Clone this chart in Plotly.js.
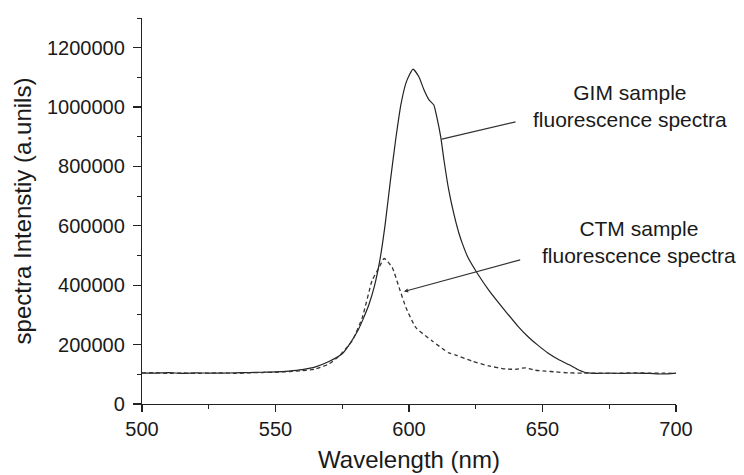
<!DOCTYPE html>
<html>
<head>
<meta charset="utf-8">
<script src="https://cdn.plot.ly/plotly-3.0.1.min.js"></script>
<style>html,body{margin:0;padding:0;background:#fff;}#chart{width:744px;height:475px;}</style>
</head>
<body>
<div id="chart"></div>
<script>
// GIM sample fluorescence spectrum (solid)
const gimWavelength = [500,505,510,515,520,525,530,535,540,545,550,555,560,565,570,575,578,581,583,585,587,589,591,593,595,597,599,601.5,603.7,605.6,607.5,609.3,610.4,611.9,613.1,614.9,616.8,618.7,620,622,625.4,630,636,641,645,648,652,656,660,663,666,668,670,675,680,685,690,695,700];
const gimIntensity  = [105000,104000,106000,103000,105000,104000,104000,105000,106000,107000,108000,111000,116000,125000,143000,169000,205000,250000,290000,335000,395000,480000,600000,750000,890000,1010000,1085000,1128000,1102000,1058000,1024000,1007000,967000,899000,821000,720000,640000,575000,540000,495000,443000,382000,314000,260000,223000,200000,172000,150000,132000,117000,106000,104000,103000,104000,103000,104000,103000,101000,104000];

// CTM sample fluorescence spectrum (dashed)
const ctmWavelength = [500,505,510,515,520,525,530,535,540,545,550,555,560,565,570,573.9,578.7,582.5,586.2,588.8,590.7,593.7,596.3,598.9,602.6,608.6,614.9,617.5,623.5,630,636.2,640,643.7,647,651.1,655,659.7,665,670,675,680,685,690,695,700];
const ctmIntensity  = [104000,106000,103000,105000,103000,104000,105000,103000,105000,106000,107000,109000,112000,118000,135000,162000,213000,291000,416000,460000,490000,460000,392000,324000,257000,213000,172000,165000,145000,128000,118000,117000,122000,114000,111000,108000,105000,104000,104000,103000,104000,105000,104000,104000,103000];

const xTickVals = [500,550,600,650,700];
const xTickText = ['500','550','600','650','700'];
const yTickVals = [0,200000,400000,600000,800000,1000000,1200000];
const yTickText = ['0','200000','400000','600000','800000','1000000','1200000'];

const FONT = 'Liberation Sans, Arial, Helvetica, sans-serif';
const INK = '#1a1a1a';

const traces = [
  {x: gimWavelength, y: gimIntensity, type: 'scatter', mode: 'lines', name: 'GIM',
   line: {color: '#222', width: 1.2, shape: 'spline', smoothing: 0.5}},
  {x: ctmWavelength, y: ctmIntensity, type: 'scatter', mode: 'lines', name: 'CTM',
   line: {color: '#333', width: 1.3, dash: '4px,3px', shape: 'spline', smoothing: 0.5}}
];

const layout = {
  width: 744, height: 475,
  margin: {l: 142, r: 68, t: 18, b: 71},
  paper_bgcolor: '#fff', plot_bgcolor: '#fff',
  showlegend: false,
  font: {family: FONT, color: INK},
  xaxis: {
    range: [500, 700], tickvals: xTickVals, ticktext: xTickText,
    showline: true, linecolor: '#222', linewidth: 1.2, mirror: false,
    showgrid: false, zeroline: false,
    ticks: 'outside', ticklen: 7, tickwidth: 1.2, tickcolor: '#222',
    ticklabelstandoff: 0,
    minor: {dtick: 25, tick0: 500, ticks: 'outside', ticklen: 4, tickwidth: 1, tickcolor: '#222', showgrid: false},
    tickfont: {size: 20, family: FONT, color: INK},
    title: {text: 'Wavelength (nm)', font: {size: 24, family: FONT, color: INK}, standoff: 12}
  },
  yaxis: {
    range: [0, 1300000], tickvals: yTickVals, ticktext: yTickText,
    showline: true, linecolor: '#222', linewidth: 1.2, mirror: false,
    showgrid: false, zeroline: false,
    ticks: 'outside', ticklen: 8, tickwidth: 1.2, tickcolor: '#222',
    ticklabelstandoff: 4,
    minor: {dtick: 100000, tick0: 0, ticks: 'outside', ticklen: 4, tickwidth: 1, tickcolor: '#222', showgrid: false},
    tickfont: {size: 20, family: FONT, color: INK},
    title: {text: 'spectra Intenstiy (a.unils)', font: {size: 24, family: FONT, color: INK}, standoff: 8}
  },
  shapes: [
    {type: 'line', xref: 'x', yref: 'y', x0: 612.3, y0: 892000, x1: 639.9, y1: 950000,
     line: {color: '#333', width: 1.2}}
  ],
  annotations: [
    {xref: 'x', yref: 'y', x: 682.8, y: 1002000, text: 'GIM sample<br>fluorescence spectra',
     showarrow: false, xanchor: 'center', yanchor: 'middle', align: 'center',
     font: {size: 21, family: FONT, color: INK}},
    {xref: 'x', yref: 'y', x: 686.2, y: 544000, text: 'CTM sample<br>fluorescence spectra',
     showarrow: false, xanchor: 'center', yanchor: 'middle', align: 'center',
     font: {size: 21, family: FONT, color: INK}},
    {xref: 'x', yref: 'y', x: 598.1, y: 378600, axref: 'x', ayref: 'y', ax: 642.2, ay: 486800,
     text: '', showarrow: true, arrowhead: 2, arrowsize: 0.7, arrowwidth: 1.2, arrowcolor: '#333', standoff: 0}
  ]
};

Plotly.newPlot('chart', traces, layout, {staticPlot: true, displayModeBar: false});
</script>
</body>
</html>
